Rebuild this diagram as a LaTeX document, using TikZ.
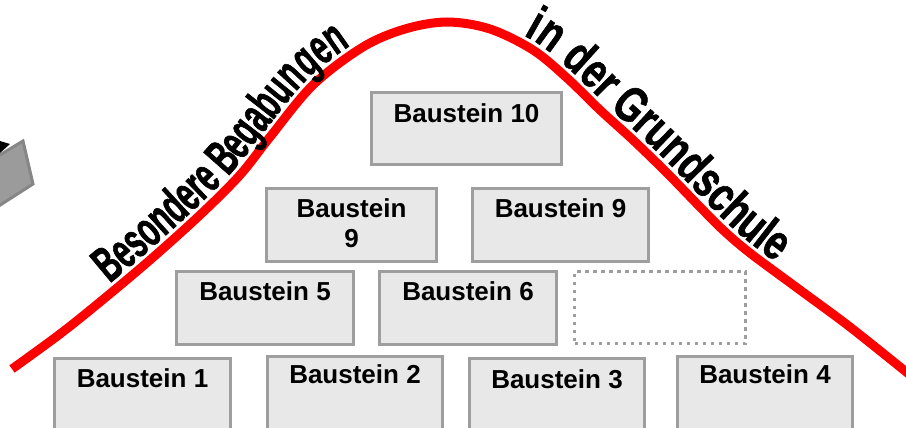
\documentclass[tikz,border=0pt]{standalone}
\usepackage{fontspec}
\setmainfont{Liberation Sans}
\newfontfamily\archleft[FakeStretch=0.59, FakeBold=1.2]{Liberation Sans}
\newfontfamily\archright[FakeStretch=0.74, FakeBold=1.2]{Liberation Sans}
\usetikzlibrary{decorations.text}
\definecolor{brickfill}{RGB}{232,232,232}
\definecolor{brickline}{RGB}{158,158,158}
\definecolor{slabfill}{RGB}{155,155,155}
\definecolor{slabline}{RGB}{134,134,134}
\definecolor{archred}{RGB}{255,0,0}
\tikzset{
  brick/.style={draw=brickline, line width=3pt, fill=brickfill, inner sep=0pt,
    outer sep=0pt, anchor=north west},
  emptybrick/.style={draw=brickline, line width=3pt, dash pattern=on 3.5pt off 4.5pt,
    fill=white, inner sep=0pt, outer sep=0pt, anchor=north west},
  lbl/.style={font=\bfseries\fontsize{26}{30}\selectfont, inner sep=0pt, anchor=base},
  arch/.style={draw=archred, line width=9pt},
}
\begin{document}
\begin{tikzpicture}[x=1pt, y=-1pt]
\useasboundingbox (0,0) rectangle (906,428);
\clip (0,0) rectangle (906,428);

% tilted grey slab at the left edge
\fill[black] (0,141) -- (10,144) -- (0,153) -- cycle;
\draw[draw=slabline, fill=slabfill, line width=3pt, line join=miter]
  (-20,167) -- (23,141) -- (33,184) -- (-20,218) -- cycle;

% bell curve
\draw[arch] plot[smooth, tension=0.55] coordinates {
  (12,369) (60,334) (100,302) (150,260) (200,215) (240,175) (270,137) (313,85)
  (363,47) (405,29) (447,22) (490,29) (533,50) (567,78) (600,110) (633,140)
  (667,173) (700,207) (723,230) (750,253) (800,290) (850,327) (910,375)};

% lettering along the curve
\path[decorate, decoration={text along path,
    text={|\archleft\bfseries\fontsize{50}{50}\selectfont|Besondere Begabungen},
    text align={left indent=130pt}, raise=8pt}]
  plot[smooth, tension=0.55] coordinates {
  (12,369) (60,334) (100,302) (150,260) (200,215) (240,175) (270,137) (313,85)
  (363,47) (405,29) (447,22)};
\path[decorate, decoration={text along path,
    text={|\archright\bfseries\fontsize{50}{50}\selectfont|in der Grundschule},
    text align={left indent=76pt}, raise=8pt}]
  plot[smooth, tension=0.55] coordinates {
  (447,22) (490,29) (533,50) (567,78) (600,110) (633,140)
  (667,173) (700,207) (723,230) (750,253) (800,290) (850,327) (910,375)};

% bottom row
\node[brick, minimum width=176pt, minimum height=100pt] (b1) at (54.5,358.5) {};
\node[brick, minimum width=175pt, minimum height=100pt] (b2) at (267.5,356.5) {};
\node[brick, minimum width=175pt, minimum height=100pt] (b3) at (469.5,358.5) {};
\node[brick, minimum width=175pt, minimum height=100pt] (b4) at (677.5,356.5) {};
\node[lbl] (t1) at (142.5,387) {Baustein 1};
\node[lbl] (t2) at (355,383) {Baustein 2};
\node[lbl] (t3) at (557,388) {Baustein 3};
\node[lbl] (t4) at (765,383) {Baustein 4};

% second row
\node[brick, minimum width=177pt, minimum height=73pt] (b5) at (176.5,271.5) {};
\node[brick, minimum width=177pt, minimum height=73pt] (b6) at (379.5,271.5) {};
\node[emptybrick, minimum width=171pt, minimum height=72pt] (b7) at (574.5,271.5) {};
\node[lbl] (t5) at (265,300) {Baustein 5};
\node[lbl] (t6) at (468,300) {Baustein 6};

% third row
\node[brick, minimum width=170pt, minimum height=73pt] (b9a) at (266.5,188.5) {};
\node[brick, minimum width=176pt, minimum height=73pt] (b9b) at (472.5,188.5) {};
\node[lbl] (t9a) at (351.5,217) {Baustein};
\node[lbl] (t9an) at (351.5,247) {9};
\node[lbl] (t9b) at (560.5,217) {Baustein 9};

% top
\node[brick, minimum width=190pt, minimum height=72pt] (b10) at (371.5,92.5) {};
\node[lbl] (t10) at (466.5,122) {Baustein 10};
\end{tikzpicture}
\end{document}
